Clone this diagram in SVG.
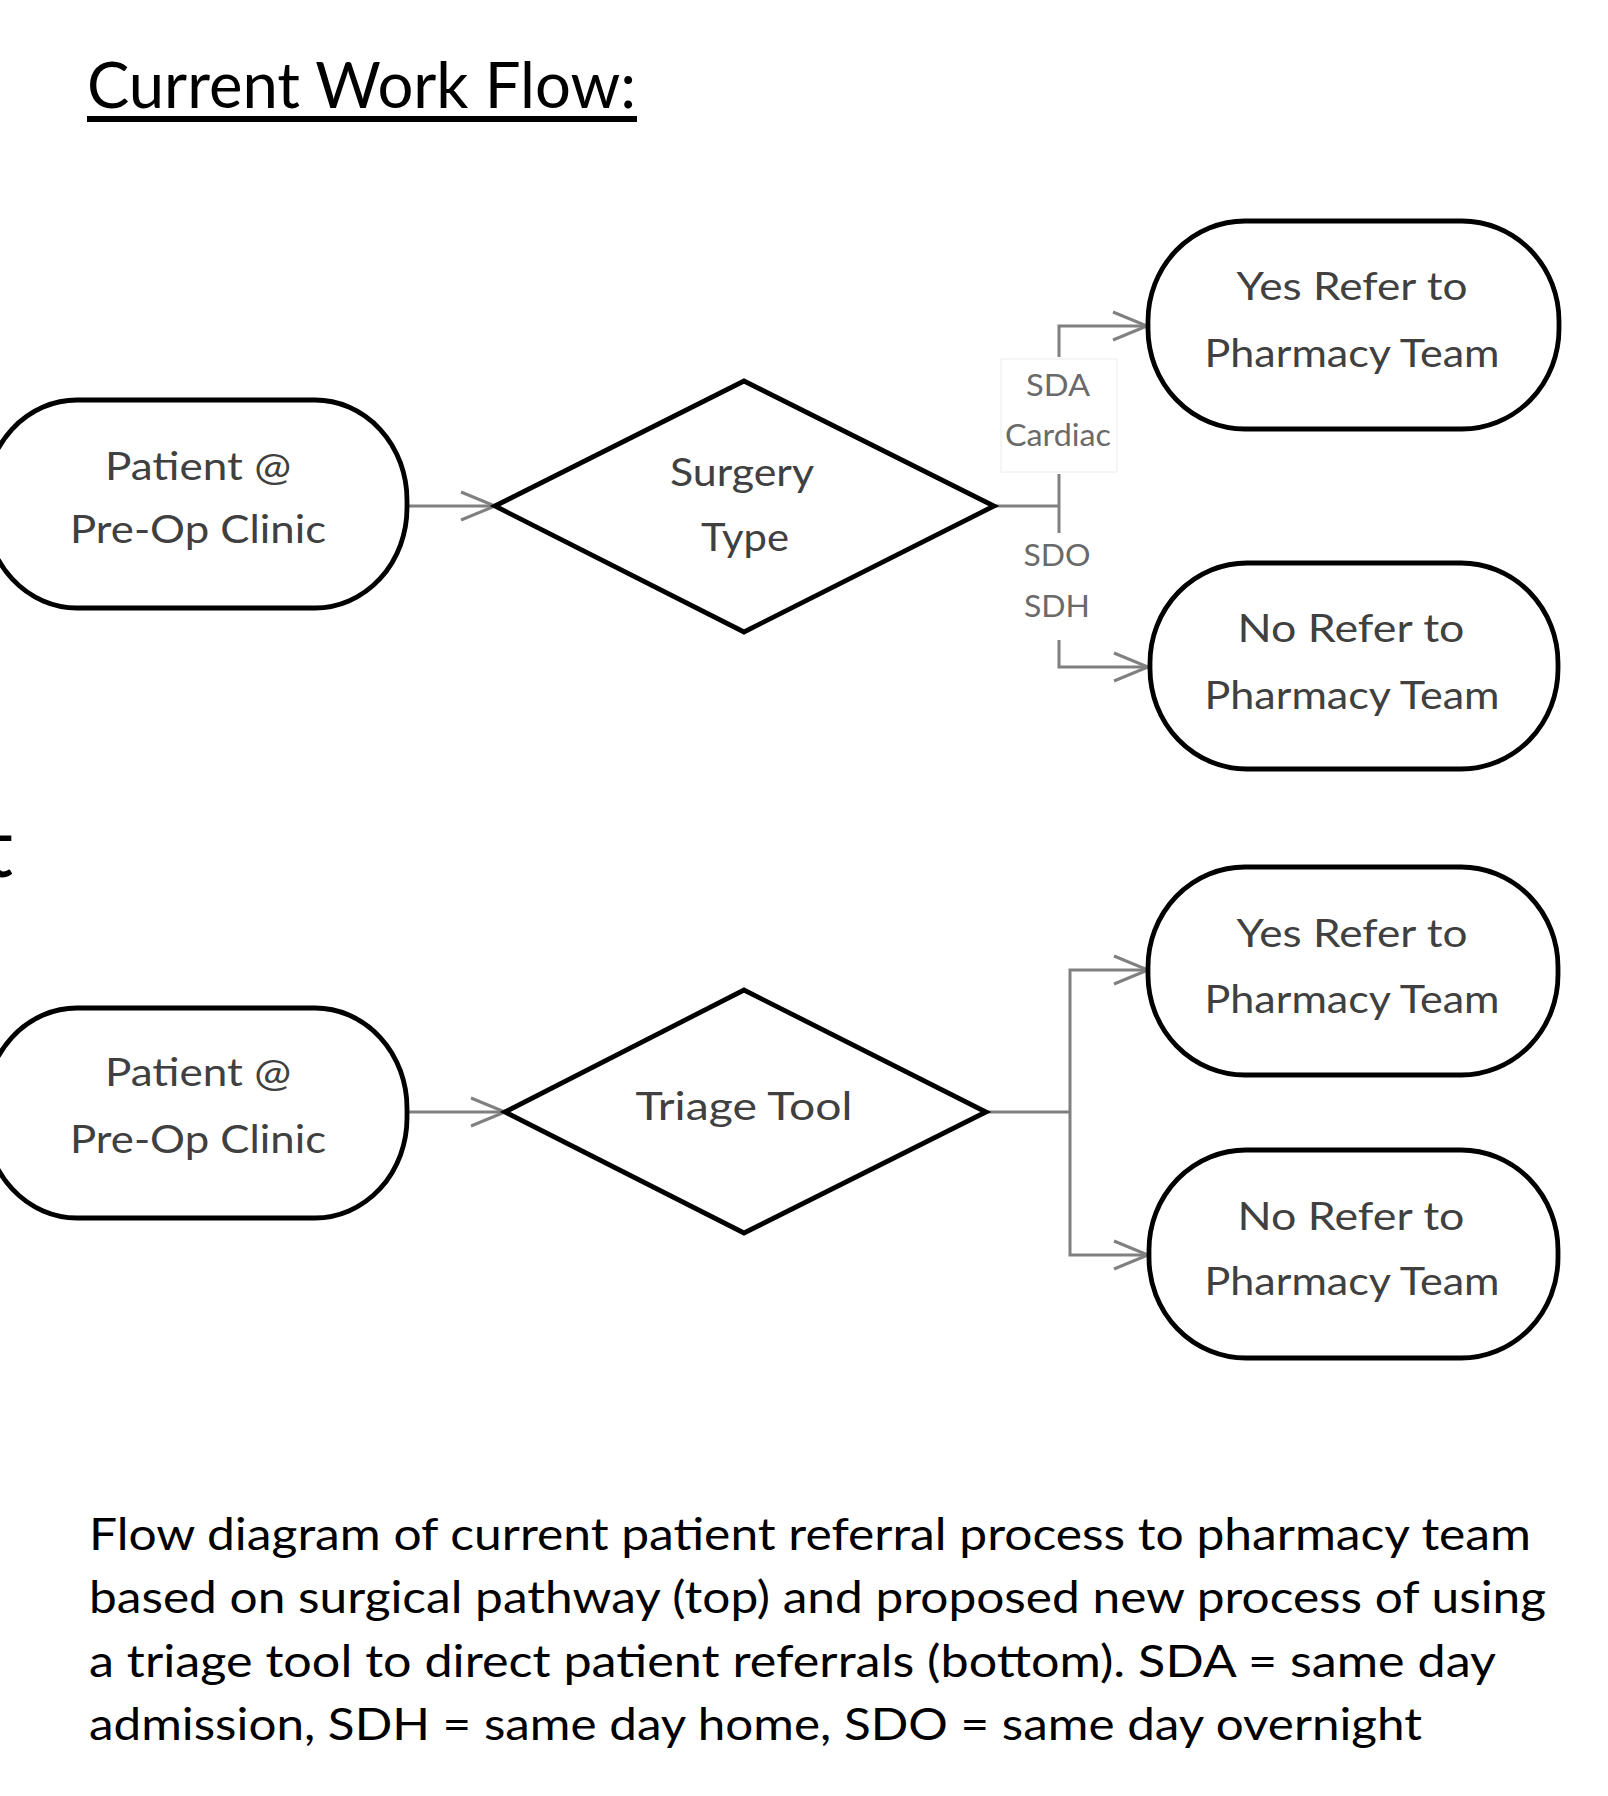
<svg xmlns="http://www.w3.org/2000/svg" width="1608" height="1796" viewBox="0 0 1608 1796">
<style>
  .node { fill: #ffffff; stroke: #000000; stroke-width: 4.8; }
  .conn { fill: none; stroke: #808080; stroke-width: 3; }
  .ntext { font-family: Lato, "Liberation Sans", sans-serif; font-size: 39px; fill: #404040; text-anchor: middle; }
  .ltext { font-family: Lato, "Liberation Sans", sans-serif; font-size: 30px; fill: #6a6a6a; text-anchor: middle; }
  .title { font-family: Lato, "Liberation Sans", sans-serif; font-size: 63px; fill: #000000; }
  .caption { font-family: Lato, "Liberation Sans", sans-serif; font-size: 45px; fill: #000000; }
</style>
<defs>
  <marker id="arrow" viewBox="-40 -20 44 40" refX="0" refY="0" markerWidth="44" markerHeight="40" markerUnits="userSpaceOnUse" orient="auto" overflow="visible">
    <path d="M -34 -14 L 0 0 L -34 14" fill="none" stroke="#808080" stroke-width="3"/>
  </marker>
</defs>
<rect x="0" y="0" width="1608" height="1796" fill="#ffffff"/>

<g id="title">
  <text class="title" x="87" y="108" textLength="549" lengthAdjust="spacingAndGlyphs">Current Work Flow:</text>
  <rect x="87" y="116" width="550" height="6" fill="#000000"/>
</g>

<text x="-17" y="877" font-family="Lato, 'Liberation Sans', sans-serif" font-size="84" fill="#000000">t</text>

<g id="connectors">
  <!-- top section -->
  <line class="conn" x1="407" y1="506" x2="495" y2="506" marker-end="url(#arrow)"/>
  <line class="conn" x1="994" y1="506" x2="1059" y2="506"/>
  <line class="conn" x1="1059" y1="474" x2="1059" y2="533"/>
  <polyline class="conn" points="1059,357 1059,326 1147,326" marker-end="url(#arrow)"/>
  <polyline class="conn" points="1059,640 1059,667 1148,667" marker-end="url(#arrow)"/>
  <rect x="1001" y="359" width="116" height="113" fill="none" stroke="#ececec" stroke-width="1"/>
  <text class="ltext" x="1058" y="396" textLength="64" lengthAdjust="spacingAndGlyphs">SDA</text>
  <text class="ltext" x="1058" y="446" textLength="106" lengthAdjust="spacingAndGlyphs">Cardiac</text>
  <text class="ltext" x="1057" y="566" textLength="67" lengthAdjust="spacingAndGlyphs">SDO</text>
  <text class="ltext" x="1057" y="617" textLength="66" lengthAdjust="spacingAndGlyphs">SDH</text>
  <!-- bottom section -->
  <line class="conn" x1="407" y1="1112" x2="505" y2="1112" marker-end="url(#arrow)"/>
  <line class="conn" x1="986" y1="1112" x2="1070" y2="1112"/>
  <polyline class="conn" points="1070,1112 1070,970 1148,970" marker-end="url(#arrow)"/>
  <polyline class="conn" points="1070,1112 1070,1255 1148,1255" marker-end="url(#arrow)"/>
</g>

<g id="patient1">
  <rect class="node" x="-15" y="400" width="422" height="208" rx="92" ry="100"/>
  <text class="ntext" x="198" y="480" textLength="186" lengthAdjust="spacingAndGlyphs">Patient @</text>
  <text class="ntext" x="198" y="543" textLength="256" lengthAdjust="spacingAndGlyphs">Pre-Op Clinic</text>
</g>
<g id="surgery-type">
  <polygon class="node" points="495,506 744,381 994,506 744,632"/>
  <text class="ntext" x="742" y="486" textLength="144" lengthAdjust="spacingAndGlyphs">Surgery</text>
  <text class="ntext" x="745" y="551" textLength="88" lengthAdjust="spacingAndGlyphs">Type</text>
</g>
<g id="yes1">
  <rect class="node" x="1148" y="221" width="411" height="208" rx="97" ry="100"/>
  <text class="ntext" x="1352" y="300" textLength="231" lengthAdjust="spacingAndGlyphs">Yes Refer to</text>
  <text class="ntext" x="1352" y="367" textLength="295" lengthAdjust="spacingAndGlyphs">Pharmacy Team</text>
</g>
<g id="no1">
  <rect class="node" x="1150" y="563" width="408" height="206" rx="97" ry="100"/>
  <text class="ntext" x="1351" y="642" textLength="227" lengthAdjust="spacingAndGlyphs">No Refer to</text>
  <text class="ntext" x="1352" y="709" textLength="295" lengthAdjust="spacingAndGlyphs">Pharmacy Team</text>
</g>

<g id="patient2">
  <rect class="node" x="-15" y="1008" width="422" height="210" rx="92" ry="100"/>
  <text class="ntext" x="198" y="1086" textLength="186" lengthAdjust="spacingAndGlyphs">Patient @</text>
  <text class="ntext" x="198" y="1153" textLength="256" lengthAdjust="spacingAndGlyphs">Pre-Op Clinic</text>
</g>
<g id="triage-tool">
  <polygon class="node" points="505,1112 744,990 986,1112 744,1233"/>
  <text class="ntext" x="744" y="1120" textLength="217" lengthAdjust="spacingAndGlyphs">Triage Tool</text>
</g>
<g id="yes2">
  <rect class="node" x="1148" y="867" width="410" height="208" rx="97" ry="100"/>
  <text class="ntext" x="1352" y="947" textLength="231" lengthAdjust="spacingAndGlyphs">Yes Refer to</text>
  <text class="ntext" x="1352" y="1013" textLength="295" lengthAdjust="spacingAndGlyphs">Pharmacy Team</text>
</g>
<g id="no2">
  <rect class="node" x="1149" y="1150" width="409" height="208" rx="97" ry="100"/>
  <text class="ntext" x="1351" y="1230" textLength="227" lengthAdjust="spacingAndGlyphs">No Refer to</text>
  <text class="ntext" x="1352" y="1295" textLength="295" lengthAdjust="spacingAndGlyphs">Pharmacy Team</text>
</g>

<g id="caption">
  <text class="caption" x="89" y="1550" textLength="1442" lengthAdjust="spacingAndGlyphs">Flow diagram of current patient referral process to pharmacy team</text>
  <text class="caption" x="89" y="1613" textLength="1457" lengthAdjust="spacingAndGlyphs">based on surgical pathway (top) and proposed new process of using</text>
  <text class="caption" x="89" y="1677" textLength="1407" lengthAdjust="spacingAndGlyphs">a triage tool to direct patient referrals (bottom). SDA = same day</text>
  <text class="caption" x="89" y="1740" textLength="1333" lengthAdjust="spacingAndGlyphs">admission, SDH = same day home, SDO = same day overnight</text>
</g>
</svg>
